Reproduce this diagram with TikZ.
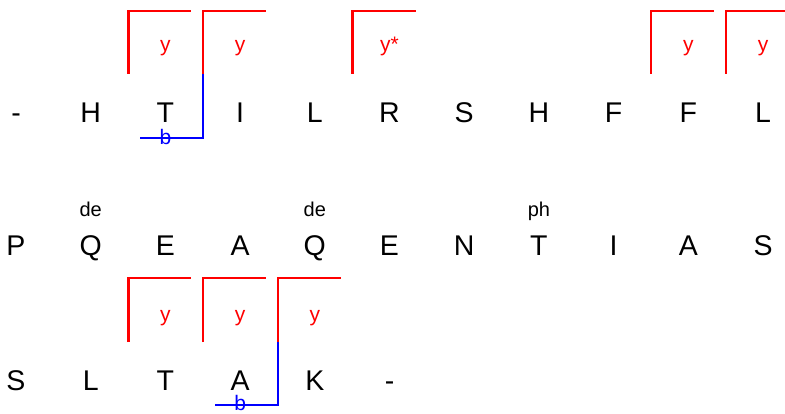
\documentclass[tikz,border=0pt]{standalone}
\usepackage{fontspec}
\setmainfont{Liberation Sans}
\begin{document}
\begin{tikzpicture}[x=1pt,y=-1pt,
  res/.style={inner sep=0pt,anchor=base,font=\fontsize{28.5}{32}\selectfont},
  lab/.style={inner sep=0pt,anchor=base,font=\fontsize{20}{24}\selectfont},
  ylab/.style={inner sep=0pt,anchor=base,text=red,font=\fontsize{21}{24}\selectfont},
  blab/.style={inner sep=0pt,anchor=base,text=blue,font=\fontsize{21}{24}\selectfont},
  rb/.style={draw=red,line width=2.2pt},
  bl/.style={draw=blue,line width=2.2pt}]
\useasboundingbox (0,0) rectangle (785,414);
\def\dx{74.7}
% rows of residues
\foreach \t [count=\i from 0] in {-,H,T,I,L,R,S,H,F,F,L}
  \node[res] (a\i) at (16+\i*\dx,123) {\t};
\foreach \t [count=\i from 0] in {P,Q,E,A,Q,E,N,T,I,A,S}
  \node[res] (b\i) at (16+\i*\dx,256) {\t};
\foreach \t [count=\i from 0] in {S,L,T,A,K,-}
  \node[res] (c\i) at (16+\i*\dx,390) {\t};
% labels above row 2
\node[lab] (d1) at ([yshift=39pt]b1.base) {de};
\node[lab] (d2) at ([yshift=39pt]b4.base) {de};
\node[lab] (d3) at ([yshift=39pt]b7.base) {ph};
% brackets row 1
\foreach \n/\s in {a2/y,a3/y,a5/y*,a9/y,a10/y}{
  \draw[rb] ([xshift=-37pt,yshift=49pt]\n.base) -- ([xshift=-37pt,yshift=112pt]\n.base) -- ([xshift=26pt,yshift=112pt]\n.base);
  \node[ylab] at ([yshift=71pt]\n.base) {\s};
}
% brackets row 3
\foreach \n/\s in {c2/y,c3/y,c4/y}{
  \draw[rb] ([xshift=-37pt,yshift=48pt]\n.base) -- ([xshift=-37pt,yshift=112pt]\n.base) -- ([xshift=26pt,yshift=112pt]\n.base);
  \node[ylab] at ([yshift=69pt]\n.base) {\s};
}
% blue links
\node[blab] (bb1) at ([yshift=-22pt]a2.base) {b};
\draw[bl] ([xshift=-37pt,yshift=49pt]a3.base) -- ([xshift=-37pt,yshift=-15pt]a3.base) -- ([xshift=-25pt,yshift=-15pt]a2.base);
\node[blab] (bb2) at ([yshift=-20pt]c3.base) {b};
\draw[bl] ([xshift=-37pt,yshift=48pt]c4.base) -- ([xshift=-37pt,yshift=-15pt]c4.base) -- ([xshift=-25pt,yshift=-15pt]c3.base);
\end{tikzpicture}
\end{document}
